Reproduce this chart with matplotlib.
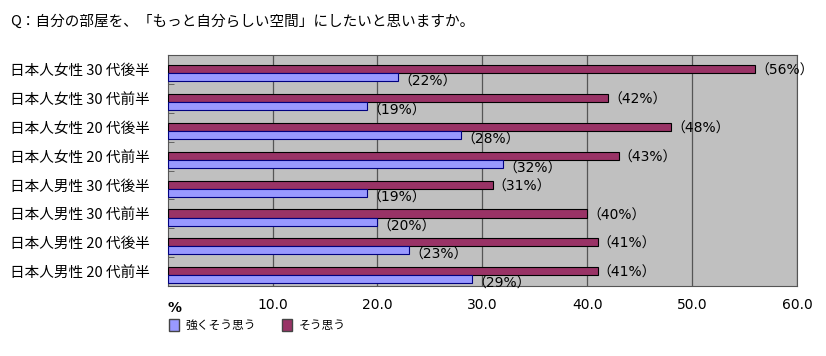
import numpy as np
import matplotlib
matplotlib.use("Agg")
import matplotlib.pyplot as plt
from matplotlib.patches import Patch

plt.rcParams['font.family'] = ['Noto Sans CJK JP', 'DejaVu Sans']

categories = ['日本人女性 30 代後半', '日本人女性 30 代前半', '日本人女性 20 代後半', '日本人女性 20 代前半',
              '日本人男性 30 代後半', '日本人男性 30 代前半', '日本人男性 20 代後半', '日本人男性 20 代前半']
strongly = [22, 19, 28, 32, 19, 20, 23, 29]
agree = [56, 42, 48, 43, 31, 40, 41, 41]
series_names = ['強くそう思う', 'そう思う']
xticks = [10, 20, 30, 40, 50, 60]

c_strong = '#9999ff'
c_agree = '#993366'
lab_font = ['DejaVu Sans', 'Noto Sans CJK JP']

fig = plt.figure(figsize=(8.26, 3.56), dpi=100)
ax = fig.add_axes([0.203, 0.197, 0.762, 0.648])
ax.set_facecolor('#c0c0c0')

y = np.arange(len(categories))
h = 0.28
ax.barh(y - 0.01, agree, height=h, color=c_agree, edgecolor='black', linewidth=0.8, zorder=3)
ax.barh(y + h - 0.01, strongly, height=h, color=c_strong, edgecolor='#000080', linewidth=0.8, zorder=3)

for yi, v in zip(y, agree):
    ax.text(v, yi + 0.05, '（%d%%）' % v, fontsize=10, va='center', ha='left',
            family=lab_font, zorder=4)
for yi, v in zip(y, strongly):
    ax.text(v, yi + h + 0.15, '（%d%%）' % v, fontsize=10, va='center', ha='left',
            family=lab_font, zorder=4)

ax.set_xlim(0, 60)
ax.set_ylim(len(categories) - 0.5, -0.5)
ax.set_xticks(xticks)
ax.set_xticklabels(['%.1f' % t for t in xticks], family=['DejaVu Sans'], fontsize=10)
ax.xaxis.grid(True, color='#555555', linewidth=0.9, zorder=1)
ax.tick_params(axis='x', length=0, pad=9)
ax.text(0, -0.095, '%', transform=ax.get_xaxis_transform(), fontsize=10, fontweight='bold',
        ha='left', va='center', family=['DejaVu Sans'])

ax.set_yticks(y)
ax.set_yticklabels(categories, fontsize=10.5)
ax.tick_params(axis='y', length=0, pad=13)
ax.set_yticks(np.arange(len(categories) - 1) + 0.5, minor=True)
ax.tick_params(axis='y', which='minor', direction='in', length=4, color='#555555')
for s in ax.spines.values():
    s.set_color('#555555')

fig.text(0.012, 0.94, 'Q：自分の部屋を、「もっと自分らしい空間」にしたいと思いますか。', fontsize=10.5, va='center')

handles = [Patch(facecolor=c_strong, edgecolor='#444444'), Patch(facecolor=c_agree, edgecolor='#444444')]
fig.legend(handles, series_names, loc='center left', bbox_to_anchor=(0.192, 0.085), ncol=2,
           frameon=False, fontsize=8.5, handlelength=0.8, handleheight=1.2, columnspacing=2.2,
           handletextpad=0.6)

fig.savefig('out.png', dpi=100)
